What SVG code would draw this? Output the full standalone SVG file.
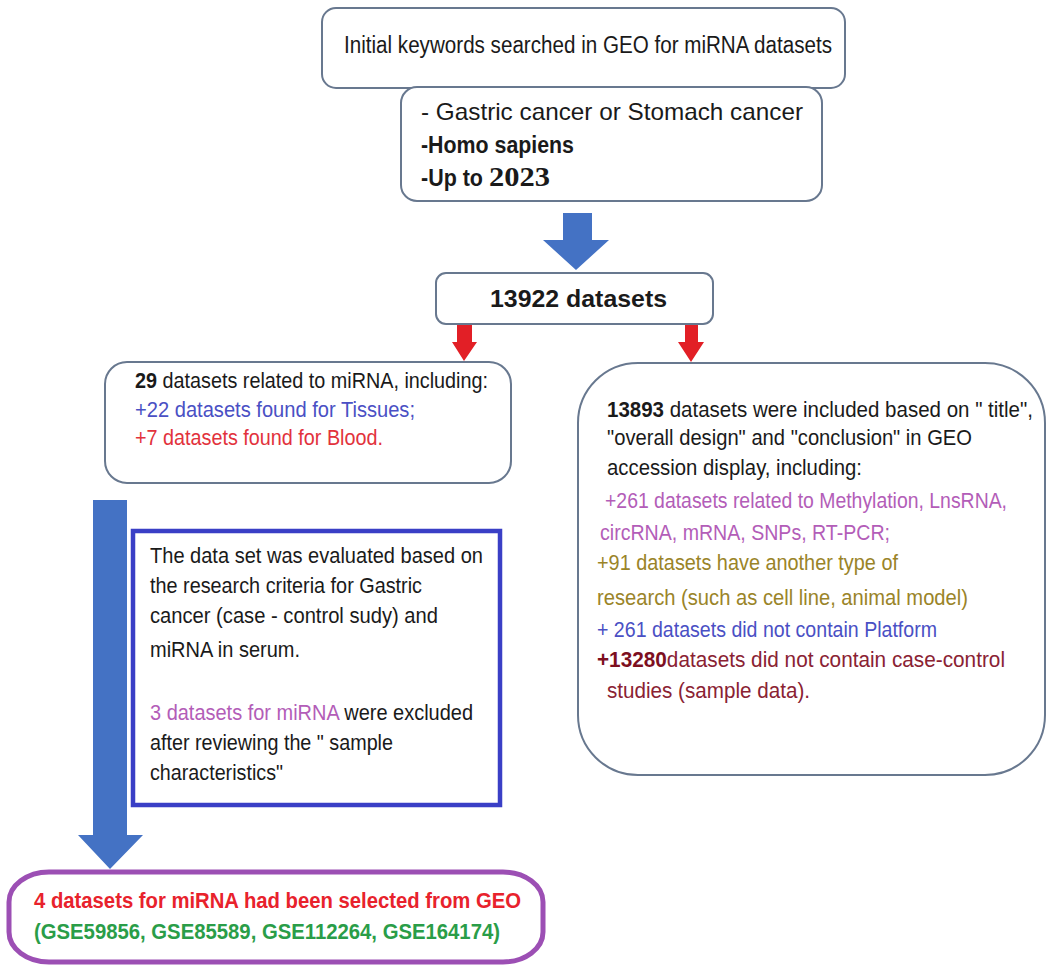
<svg xmlns="http://www.w3.org/2000/svg" width="1047" height="966" viewBox="0 0 1047 966">
<style>
.box{fill:#fff;stroke:#68788f;stroke-width:2}
.t{font-family:"Liberation Sans",Arial,sans-serif;font-size:22px;fill:#1a1a1a}
.b{font-weight:bold}
.blue{fill:#4a50c4}
.red{fill:#e2323c}
.pur{fill:#b35db8}
.olv{fill:#9a8428}
.drd{fill:#8a2233}
.barrow{fill:#4472c4}
.rarrow{fill:#e21f26}
</style>
<rect width="1047" height="966" fill="#fff"/>
<g id="connectors">
<polygon class="barrow" points="563,213 592,213 592,240 609,240 576,270 543,240 563,240"/>
<polygon class="rarrow" points="457,324 472,324 472,342 477,342 464,361 452,342 457,342"/>
<polygon class="rarrow" points="685,324 698,324 698,342 704,342 691,362 678,342 685,342"/>
<polygon class="barrow" points="93,500 127,500 127,835 143,835 110,869 78,835 93,835"/>
</g>
<g id="keywords">
<rect class="box" x="322" y="8" width="523" height="80" rx="14"/>
<text class="t" x="344" y="53" style="font-size:23.5px" textLength="488" lengthAdjust="spacingAndGlyphs">Initial keywords searched in GEO for miRNA datasets</text>
</g>
<g id="criteria">
<rect class="box" x="401" y="87" width="421" height="114" rx="16"/>
<text class="t" x="421" y="120" style="font-size:24px" textLength="382" lengthAdjust="spacingAndGlyphs">- Gastric cancer or Stomach cancer</text>
<text class="t b" x="421" y="153" style="font-size:23.5px" textLength="153" lengthAdjust="spacingAndGlyphs">-Homo sapiens</text>
<text class="t b" x="421" y="186" style="font-size:23.5px" textLength="62" lengthAdjust="spacingAndGlyphs">-Up to</text>
<text class="t b" x="489" y="186" style="font-family:'Liberation Serif','Times New Roman',serif;font-size:27px" textLength="61" lengthAdjust="spacingAndGlyphs">2023</text>
</g>
<g id="total">
<rect class="box" x="436" y="273" width="277" height="51" rx="10"/>
<text class="t b" x="490" y="307" style="font-size:24px" textLength="177" lengthAdjust="spacingAndGlyphs">13922 datasets</text>
</g>
<g id="mirna">
<rect class="box" x="105" y="362" width="406" height="121" rx="22"/>
<text class="t" x="135" y="388" textLength="353" lengthAdjust="spacingAndGlyphs"><tspan class="b">29</tspan> datasets related to miRNA, including:</text>
<text class="t blue" x="135" y="417" textLength="280" lengthAdjust="spacingAndGlyphs">+22 datasets found for Tissues;</text>
<text class="t red" x="135" y="445" textLength="248" lengthAdjust="spacingAndGlyphs">+7 datasets found for Blood.</text>
</g>
<g id="excluded">
<rect class="box" x="578" y="363" width="467" height="412" rx="60"/>
<text class="t" x="607" y="417" textLength="426" lengthAdjust="spacingAndGlyphs"><tspan class="b">13893</tspan> datasets were included based on " title",</text>
<text class="t" x="607" y="445" textLength="365" lengthAdjust="spacingAndGlyphs">"overall design" and "conclusion" in GEO</text>
<text class="t" x="607" y="475" textLength="255" lengthAdjust="spacingAndGlyphs">accession display, including:</text>
<text class="t pur" x="605" y="508" textLength="402" lengthAdjust="spacingAndGlyphs">+261 datasets related to Methylation, LnsRNA,</text>
<text class="t pur" x="600" y="540" textLength="290" lengthAdjust="spacingAndGlyphs">circRNA, mRNA, SNPs, RT-PCR;</text>
<text class="t olv" x="597" y="570" textLength="301" lengthAdjust="spacingAndGlyphs">+91 datasets have another type of</text>
<text class="t olv" x="597" y="605" textLength="371" lengthAdjust="spacingAndGlyphs">research (such as cell line, animal model)</text>
<text class="t blue" x="597" y="637" textLength="340" lengthAdjust="spacingAndGlyphs">+ 261 datasets did not contain Platform</text>
<text class="t drd" x="597" y="667" textLength="408" lengthAdjust="spacingAndGlyphs"><tspan class="b" style="fill:#7d0f1f">+13280</tspan>datasets did not contain case-control</text>
<text class="t drd" x="607" y="698" textLength="203" lengthAdjust="spacingAndGlyphs">studies (sample data).</text>
</g>
<g id="evaluation">
<rect x="133" y="531" width="367" height="274" fill="#fff" stroke="#3a3fc6" stroke-width="4.5"/>
<text class="t" x="150" y="563" style="font-size:22.5px" textLength="333" lengthAdjust="spacingAndGlyphs">The data set was evaluated based on</text>
<text class="t" x="150" y="593" style="font-size:22.5px" textLength="272" lengthAdjust="spacingAndGlyphs">the research criteria for Gastric</text>
<text class="t" x="150" y="623" style="font-size:22.5px" textLength="288" lengthAdjust="spacingAndGlyphs">cancer (case - control sudy) and</text>
<text class="t" x="150" y="657" style="font-size:22.5px" textLength="150" lengthAdjust="spacingAndGlyphs">miRNA in serum.</text>
<text class="t" x="150" y="720" style="font-size:22.5px" textLength="323" lengthAdjust="spacingAndGlyphs"><tspan class="pur">3 datasets for miRNA</tspan> were excluded</text>
<text class="t" x="150" y="750" style="font-size:22.5px" textLength="243" lengthAdjust="spacingAndGlyphs">after reviewing the " sample</text>
<text class="t" x="150" y="780" style="font-size:22.5px" textLength="133" lengthAdjust="spacingAndGlyphs">characteristics"</text>
</g>
<g id="selected">
<rect x="9" y="872" width="534" height="90" rx="40" ry="30" fill="#fff" stroke="#9c4fb4" stroke-width="5"/>
<text class="t b" x="34" y="908" style="font-size:22.5px;fill:#e8222c" textLength="487" lengthAdjust="spacingAndGlyphs">4 datasets for miRNA had been selected from GEO</text>
<text class="t b" x="34" y="939" style="font-size:22.5px;fill:#2a9d48" textLength="466" lengthAdjust="spacingAndGlyphs">(GSE59856, GSE85589, GSE112264, GSE164174)</text>
</g>
</svg>
